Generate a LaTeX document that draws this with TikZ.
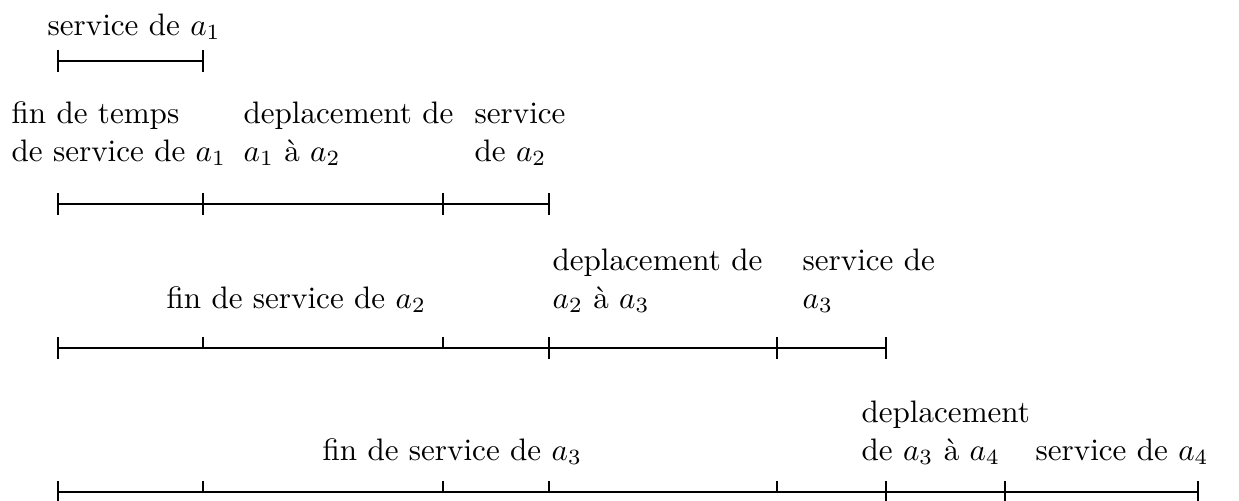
\documentclass[tikz,border=0pt]{standalone}
\usepackage{fontspec}

\tikzset{
    nhan/.style={anchor=base west, inner sep=0pt, align=left},
    truc/.style={line width=0.5pt},
}
% vạch đầy và vạch nửa trên trục thời gian
\newcommand{\vach}[1]{\draw[truc] (#1) ++(0,-11) -- ++(0,22);}
\newcommand{\vachnho}[1]{\draw[truc] (#1) -- ++(0,-11);}

\begin{document}
\begin{tikzpicture}[x=0.3218pt, y=-0.3218pt]
    % 1. Khung hình
    \useasboundingbox (0,0) rectangle (1239,500);

    % 2. Hàng 1: phục vụ a1
    \node[nhan] (sv1) at (47,35) {service de $a_1$};
    \coordinate (h1-1) at (58,61);
    \coordinate (h1-2) at (203,61);
    \draw[truc] (h1-1) -- (h1-2);
    \vach{h1-1} \vach{h1-2}

    % 3. Hàng 2 (base = dòng cuối của nhãn)
    \node[nhan] (fin1) at (11,161) {fin de temps\\de service de $a_1$};
    \node[nhan] (dep12) at (243,161) {deplacement de\\$a_1$ à $a_2$};
    \node[nhan] (sv2) at (474,161) {service\\de $a_2$};
    \foreach \x [count=\i] in {58,203,443,549}
        \coordinate (h2-\i) at (\x,204);
    \draw[truc] (h2-1) -- (h2-4);
    \foreach \i in {1,...,4} {\vach{h2-\i}}

    % 4. Hàng 3
    \node[nhan] (fin2) at (166,308) {fin de service de $a_2$};
    \node[nhan] (dep23) at (552,308) {deplacement de\\$a_2$ à $a_3$};
    \node[nhan] (sv3) at (802,308) {service de\\$a_3$};
    \foreach \x [count=\i] in {58,203,443,549,777,886}
        \coordinate (h3-\i) at (\x,348);
    \draw[truc] (h3-1) -- (h3-6);
    \vach{h3-1} \vachnho{h3-2} \vachnho{h3-3}
    \vach{h3-4} \vach{h3-5} \vach{h3-6}

    % 5. Hàng 4
    \node[nhan] (fin3) at (322,460) {fin de service de $a_3$};
    \node[nhan] (dep34) at (861,460) {deplacement\\de $a_3$ à $a_4$};
    \node[nhan] (sv4) at (1035,460) {service de $a_4$};
    \foreach \x [count=\i] in {58,203,443,549,777,886,1005,1198}
        \coordinate (h4-\i) at (\x,492);
    \draw[truc] (h4-1) -- (h4-8);
    \vach{h4-1} \vachnho{h4-2} \vachnho{h4-3} \vachnho{h4-4}
    \vachnho{h4-5} \vach{h4-6} \vach{h4-7} \vach{h4-8}
\end{tikzpicture}
\end{document}
